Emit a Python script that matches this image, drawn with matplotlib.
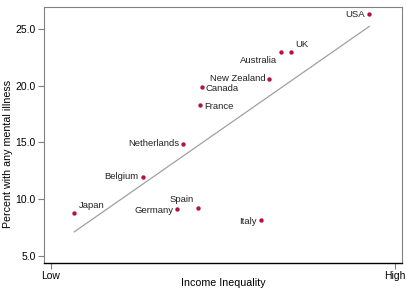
import matplotlib.pyplot as plt
import numpy as np

plt.rcParams['font.family'] = ['Liberation Sans', 'DejaVu Sans']

countries = ["USA", "UK", "Australia", "New Zealand", "Canada", "France",
             "Netherlands", "Belgium", "Japan", "Germany", "Spain", "Italy"]
inequality = [0.925, 0.697, 0.668, 0.635, 0.438, 0.433,
              0.384, 0.267, 0.068, 0.367, 0.426, 0.610]
mental_illness = [26.3, 23.0, 23.0, 20.6, 19.9, 18.3,
                  14.9, 12.0, 8.8, 9.1, 9.2, 8.2]
# label offsets in points (dx, dy) and alignment
label_pos = {
    "USA": (-3, 0, "right", "center"),
    "UK": (3, 2, "left", "bottom"),
    "Australia": (-3, -3, "right", "top"),
    "New Zealand": (-3, 0, "right", "center"),
    "Canada": (3, -1, "left", "center"),
    "France": (3, -1, "left", "center"),
    "Netherlands": (-3, 0, "right", "center"),
    "Belgium": (-3, 0, "right", "center"),
    "Japan": (3, 2, "left", "bottom"),
    "Germany": (-3, -1, "right", "center"),
    "Spain": (-3, 3, "right", "bottom"),
    "Italy": (-3, -1, "right", "center"),
}

fig = plt.figure(figsize=(4.07, 2.89), dpi=100)
ax = fig.add_axes([44 / 407, 26 / 289, 358 / 407, 256 / 289])

x = np.array(inequality)
y = np.array(mental_illness)
b, a = np.polyfit(x, y, 1)
xl = np.array([x.min(), x.max()])
ax.plot(xl, a + b * xl, color="#a0a0a0", lw=0.9, zorder=1)
ax.scatter(x, y, s=10, color="#b5123e", zorder=2, linewidths=0)

for c, xi, yi in zip(countries, x, y):
    dx, dy, ha, va = label_pos[c]
    ax.annotate(c, (xi, yi), xytext=(dx, dy), textcoords="offset points",
                ha=ha, va=va, fontsize=6.8, color="#222222")

ax.set_xlim(-0.02, 1.02)
ax.set_ylim(4.38, 26.94)
ax.set_yticks([5, 10, 15, 20, 25])
ax.set_yticklabels(["5.0", "10.0", "15.0", "20.0", "25.0"], fontsize=7.5)
ax.set_xticks([0, 1])
ax.set_xticklabels(["Low", "High"], fontsize=7.5)
ax.tick_params(axis="both", color="#808080", length=4, width=0.8, pad=2)
for s in ["top", "right", "left"]:
    ax.spines[s].set_color("#808080")
    ax.spines[s].set_linewidth(0.8)
ax.spines["bottom"].set_color("black")
ax.spines["bottom"].set_linewidth(1.0)

fig.text(8 / 407, 135 / 289, "Percent with any mental illness", fontsize=7.7,
         rotation=90, ha="center", va="center")
fig.text(223 / 407, 1.5 / 289, "Income Inequality", fontsize=7.7,
         ha="center", va="bottom")

fig.savefig("out.png", dpi=100)
